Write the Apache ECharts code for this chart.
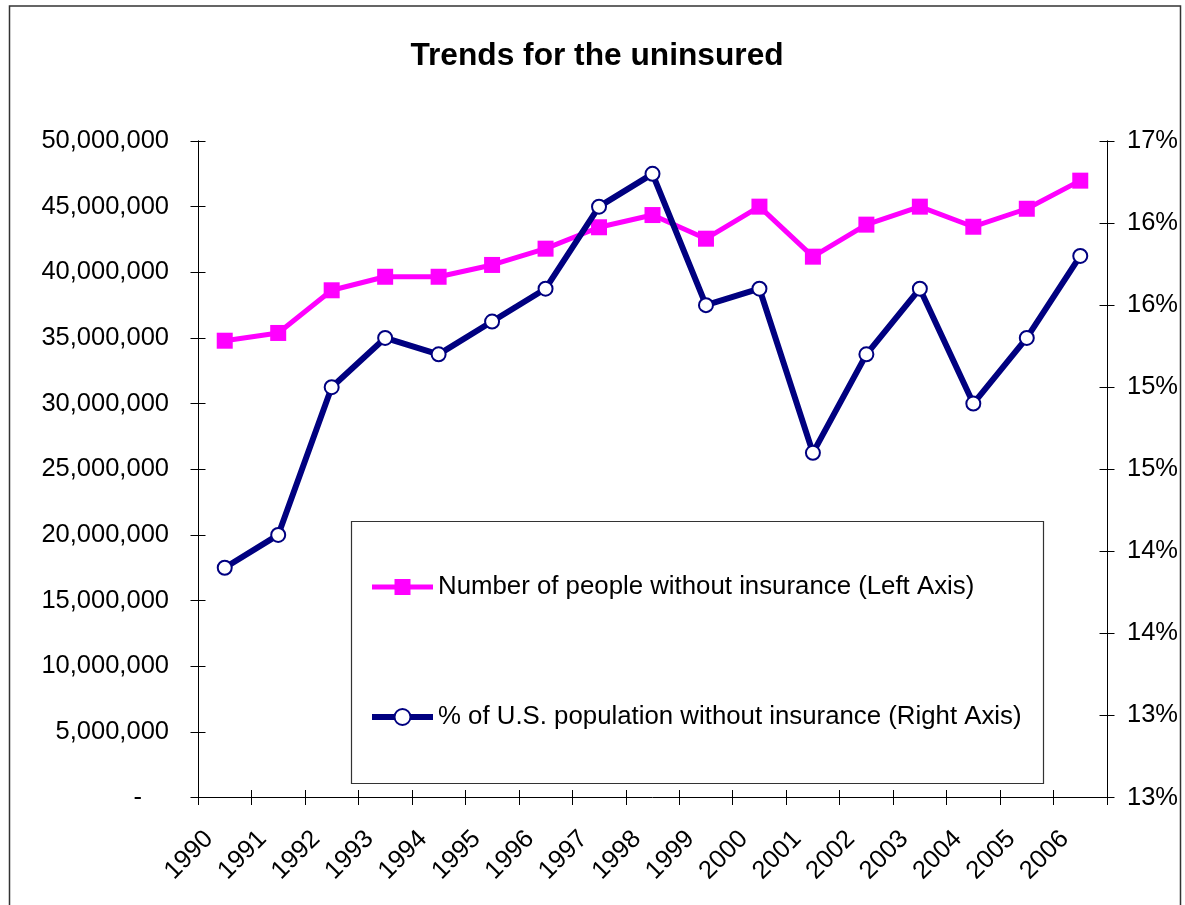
<!DOCTYPE html>
<html>
<head>
<meta charset="utf-8">
<script src="https://cdn.jsdelivr.net/npm/echarts@6/dist/echarts.min.js"></script>
<style>
html,body{margin:0;padding:0;background:#fff;}
#chart{width:1185px;height:905px;}
</style>
</head>
<body>
<div id="chart"></div>
<script>
var years = ['1990','1991','1992','1993','1994','1995','1996','1997','1998','1999','2000','2001','2002','2003','2004','2005','2006'];
var uninsuredCount = [34790000, 35380000, 38630000, 39660000, 39660000, 40560000, 41800000, 43430000, 44360000, 42560000, 45000000, 41190000, 43630000, 45000000, 43470000, 44840000, 46980000];
var uninsuredPct = [13.9, 14.1, 15.0, 15.3, 15.2, 15.4, 15.6, 16.1, 16.3, 15.5, 15.6, 14.6, 15.2, 15.6, 14.9, 15.3, 15.8];
var seriesNames = ['Number of people without insurance (Left Axis)', '% of U.S. population without insurance (Right Axis)'];
var chartTitle = 'Trends for the uninsured';

var FONT = 'Liberation Sans, Arial, sans-serif';
var axisBlack = {color:'#000', width:1};
var PINK = '#FF00FF', NAVY = '#000080';
var GRID_TOP = 141, GRID_BOTTOM = 107.5, GRID_H = 905 - GRID_TOP - GRID_BOTTOM;

var chart = echarts.init(document.getElementById('chart'), null, {renderer:'canvas'});
var leftAxisBase = {type:'value', min:0, max:50000000, interval:5000000};
var rightAxisBase = {type:'value', min:12.5, max:16.5, interval:0.5};

chart.setOption({
  animation:false,
  backgroundColor:'#fff',
  title:{
    text: chartTitle, left: 592, top: 35, textAlign:'center',
    textStyle:{fontFamily:FONT, fontSize:31.7, fontWeight:'bold', color:'#000'}
  },
  grid:{left:198, right:78, top:GRID_TOP, bottom:GRID_BOTTOM, containLabel:false},
  graphic:[
    {type:'rect', shape:{x:9.5, y:6, width:1171, height:920}, style:{fill:null, stroke:'#333', lineWidth:1.5}, z:-1, silent:true},
    {type:'rect', shape:{x:351.5, y:521.5, width:692, height:262}, style:{fill:'#fff', stroke:'#333', lineWidth:1.2}, z:1, silent:true}
  ],
  legend:{
    data: [
      {name:seriesNames[0], lineStyle:{color:PINK, width:5}, itemStyle:{color:PINK}},
      {name:seriesNames[1], lineStyle:{color:NAVY, width:6}, itemStyle:{color:'#fff', borderColor:NAVY, borderWidth:2}}
    ],
    orient:'vertical',
    left: 369, top: 572, padding:0,
    itemWidth:61, itemHeight:20, itemGap:100,
    textStyle:{fontFamily:FONT, fontSize:25.8, color:'#000', lineHeight:30},
    z: 5
  },
  xAxis:[
    {type:'category', data:years, boundaryGap:true, position:'bottom',
     axisLine:{lineStyle:axisBlack},
     axisTick:{show:true, inside:false, length:7.5, alignWithLabel:false, lineStyle:axisBlack},
     axisLabel:{interval:0, rotate:45, margin:22, padding:[0,22,0,0], fontFamily:FONT, fontSize:25.5, color:'#000'},
     splitLine:{show:false}},
    {type:'category', data:years, boundaryGap:true, position:'top', offset:-GRID_H,
     axisLine:{show:false, onZero:false},
     axisTick:{show:true, inside:false, length:7.5, lineStyle:axisBlack},
     axisLabel:{show:false}, splitLine:{show:false}}
  ],
  yAxis:[
    Object.assign({}, leftAxisBase, {
      position:'left',
      axisLine:{show:true, lineStyle:axisBlack},
      axisTick:{show:true, length:7.5, lineStyle:axisBlack},
      splitLine:{show:false},
      axisLabel:{margin:29, fontFamily:FONT, fontSize:25.5, color:'#000',
        formatter:function(v){ return v === 0 ? '{z|-}' : v.toLocaleString('en-US'); },
        rich:{z:{fontFamily:FONT, fontSize:25.5, color:'#000', padding:[0,27,0,0]}}}
    }),
    Object.assign({}, rightAxisBase, {
      position:'right',
      axisLine:{show:true, lineStyle:axisBlack},
      axisTick:{show:true, length:7.5, lineStyle:axisBlack},
      splitLine:{show:false},
      axisLabel:{margin:20, fontFamily:FONT, fontSize:25.5, color:'#000',
        formatter:function(v){ return Math.round(v) + '%'; }}
    }),
    Object.assign({}, leftAxisBase, {
      position:'left',
      axisLine:{show:true, lineStyle:axisBlack}, splitLine:{show:false}, axisLabel:{show:false},
      axisTick:{show:true, inside:true, length:7.5, lineStyle:axisBlack}
    }),
    Object.assign({}, rightAxisBase, {
      position:'right',
      axisLine:{show:true, lineStyle:axisBlack}, splitLine:{show:false}, axisLabel:{show:false},
      axisTick:{show:true, inside:true, length:7.5, lineStyle:axisBlack}
    })
  ],
  series:[
    {name:seriesNames[0], type:'line', yAxisIndex:0, data:uninsuredCount,
     symbol:'rect', symbolSize:16, showAllSymbol:true,
     lineStyle:{color:PINK, width:5},
     itemStyle:{color:PINK}, z:3},
    {name:seriesNames[1], type:'line', yAxisIndex:1, data:uninsuredPct,
     symbol:'circle', symbolSize:14, showAllSymbol:true,
     lineStyle:{color:NAVY, width:6},
     itemStyle:{color:'#fff', borderColor:NAVY, borderWidth:2}, z:4}
  ]
});
</script>
</body>
</html>
